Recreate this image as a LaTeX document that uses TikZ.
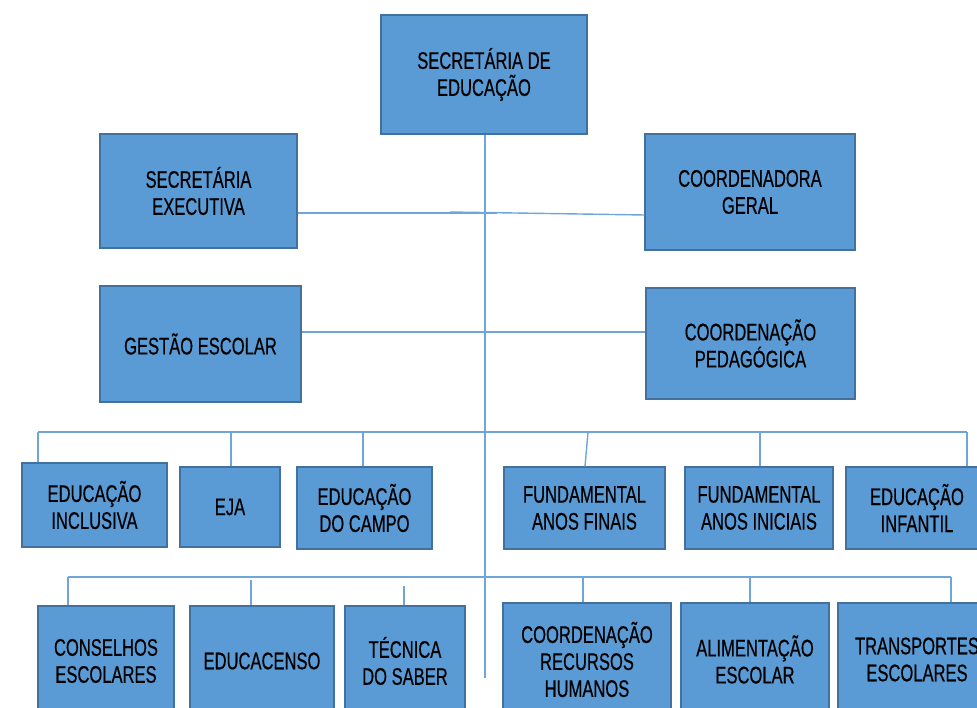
\documentclass[tikz,border=0pt]{standalone}
\usepackage{fontspec}
\setmainfont[FakeStretch=0.69,FakeBold=0.5]{Liberation Sans}
\definecolor{boxfill}{HTML}{5B9BD5}
\definecolor{boxline}{HTML}{41719C}
\definecolor{conn}{HTML}{6FA5DA}
\tikzset{
  box/.style={draw=boxline, line width=1.1pt, fill=boxfill, align=center, inner sep=0pt,
    font=\fontsize{24}{27}\selectfont, text=black},
  wire/.style={draw=conn, line width=1.4pt}
}
\begin{document}
\begin{tikzpicture}[x=1pt,y=-1pt]
\useasboundingbox (0,0) rectangle (977,708);
\clip (0,0) rectangle (977,708);
% boxes
\node[box, minimum width=206pt, minimum height=119pt] (top) at (484,74.5) {SECRETÁRIA DE\\EDUCAÇÃO};
\node[box, minimum width=197pt, minimum height=114pt] (se) at (198.5,191) {SECRETÁRIA\\EXECUTIVA};
\node[box, minimum width=210pt, minimum height=116pt] (cg) at (750,192) {COORDENADORA\\GERAL};
\node[box, minimum width=201pt, minimum height=116pt] (ge) at (200.5,344) {GESTÃO ESCOLAR};
\node[box, minimum width=209pt, minimum height=111pt] (cp) at (750.5,343.5) {COORDENAÇÃO\\PEDAGÓGICA};
% row 3
\node[box, minimum width=145pt, minimum height=84pt] (ei) at (94.5,505) {EDUCAÇÃO\\INCLUSIVA};
\node[box, minimum width=100pt, minimum height=80pt] (eja) at (230,507) {EJA};
\node[box, minimum width=135pt, minimum height=82pt] (ec) at (364.5,508) {EDUCAÇÃO\\DO CAMPO};
\node[box, minimum width=161pt, minimum height=82pt] (faf) at (584.5,508) {FUNDAMENTAL\\ANOS FINAIS};
\node[box, minimum width=148pt, minimum height=82pt] (fai) at (759,508) {FUNDAMENTAL\\ANOS INICIAIS};
\node[box, minimum width=142pt, minimum height=82pt] (inf) at (917,508) {EDUCAÇÃO\\INFANTIL};
% row 4
\node[box, minimum width=136pt, minimum height=110pt] (cons) at (106,661) {CONSELHOS\\ESCOLARES};
\node[box, minimum width=144pt, minimum height=110pt] (edu) at (262,661) {EDUCACENSO};
\node[box, minimum width=120pt, minimum height=110pt] (tec) at (405,661) {TÉCNICA\\DO SABER};
\node[box, minimum width=168pt, minimum height=113pt] (crh) at (587,659.5) {COORDENAÇÃO\\RECURSOS\\HUMANOS};
\node[box, minimum width=148pt, minimum height=113pt] (ali) at (755,659.5) {ALIMENTAÇÃO\\ESCOLAR};
\node[box, minimum width=158pt, minimum height=113pt] (tra) at (917,659.5) {TRANSPORTES\\ESCOLARES};
% junctions
\coordinate (trunkend) at (485,678);
\coordinate (s1) at (497,213);
\coordinate (s2) at (450,212);
\coordinate (g) at (485,332);
\coordinate (b3L) at (38,432);
\coordinate (b3R) at (967,432);
\coordinate (b4L) at (68,577);
\coordinate (b4R) at (951,577);
% connectors
\draw[wire] (top.south -| trunkend) -- (trunkend);
\draw[wire] (s1 -| se.east) -- (s1);
\draw[wire] (s2) -- ([yshift=-2pt]cg.west |- s1);
\draw[wire] (g -| ge.east) -- (g -| cp.west);
\draw[wire] (b3L) -- (b3R);
\draw[wire] (b3L) -- (b3L |- ei.north);
\draw[wire] (eja.north -| 231,0) -- (231,432);
\draw[wire] (ec.north -| 363,0) -- (363,432);
\draw[wire] (faf.north -| 585,0) -- (588,432);
\draw[wire] (fai.north -| 760,0) -- (760,432);
\draw[wire] (b3R) -- (b3R |- inf.north);
\draw[wire] (b4L) -- (b4R);
\draw[wire] (b4L) -- (b4L |- cons.north);
\draw[wire] (edu.north -| 251,0) -- (251,580);
\draw[wire] (tec.north -| 404,0) -- (404,586);
\draw[wire] (crh.north -| 583,0) -- (583,577);
\draw[wire] (ali.north -| 750,0) -- (750,577);
\draw[wire] (b4R) -- (b4R |- tra.north);
\end{tikzpicture}
\end{document}
